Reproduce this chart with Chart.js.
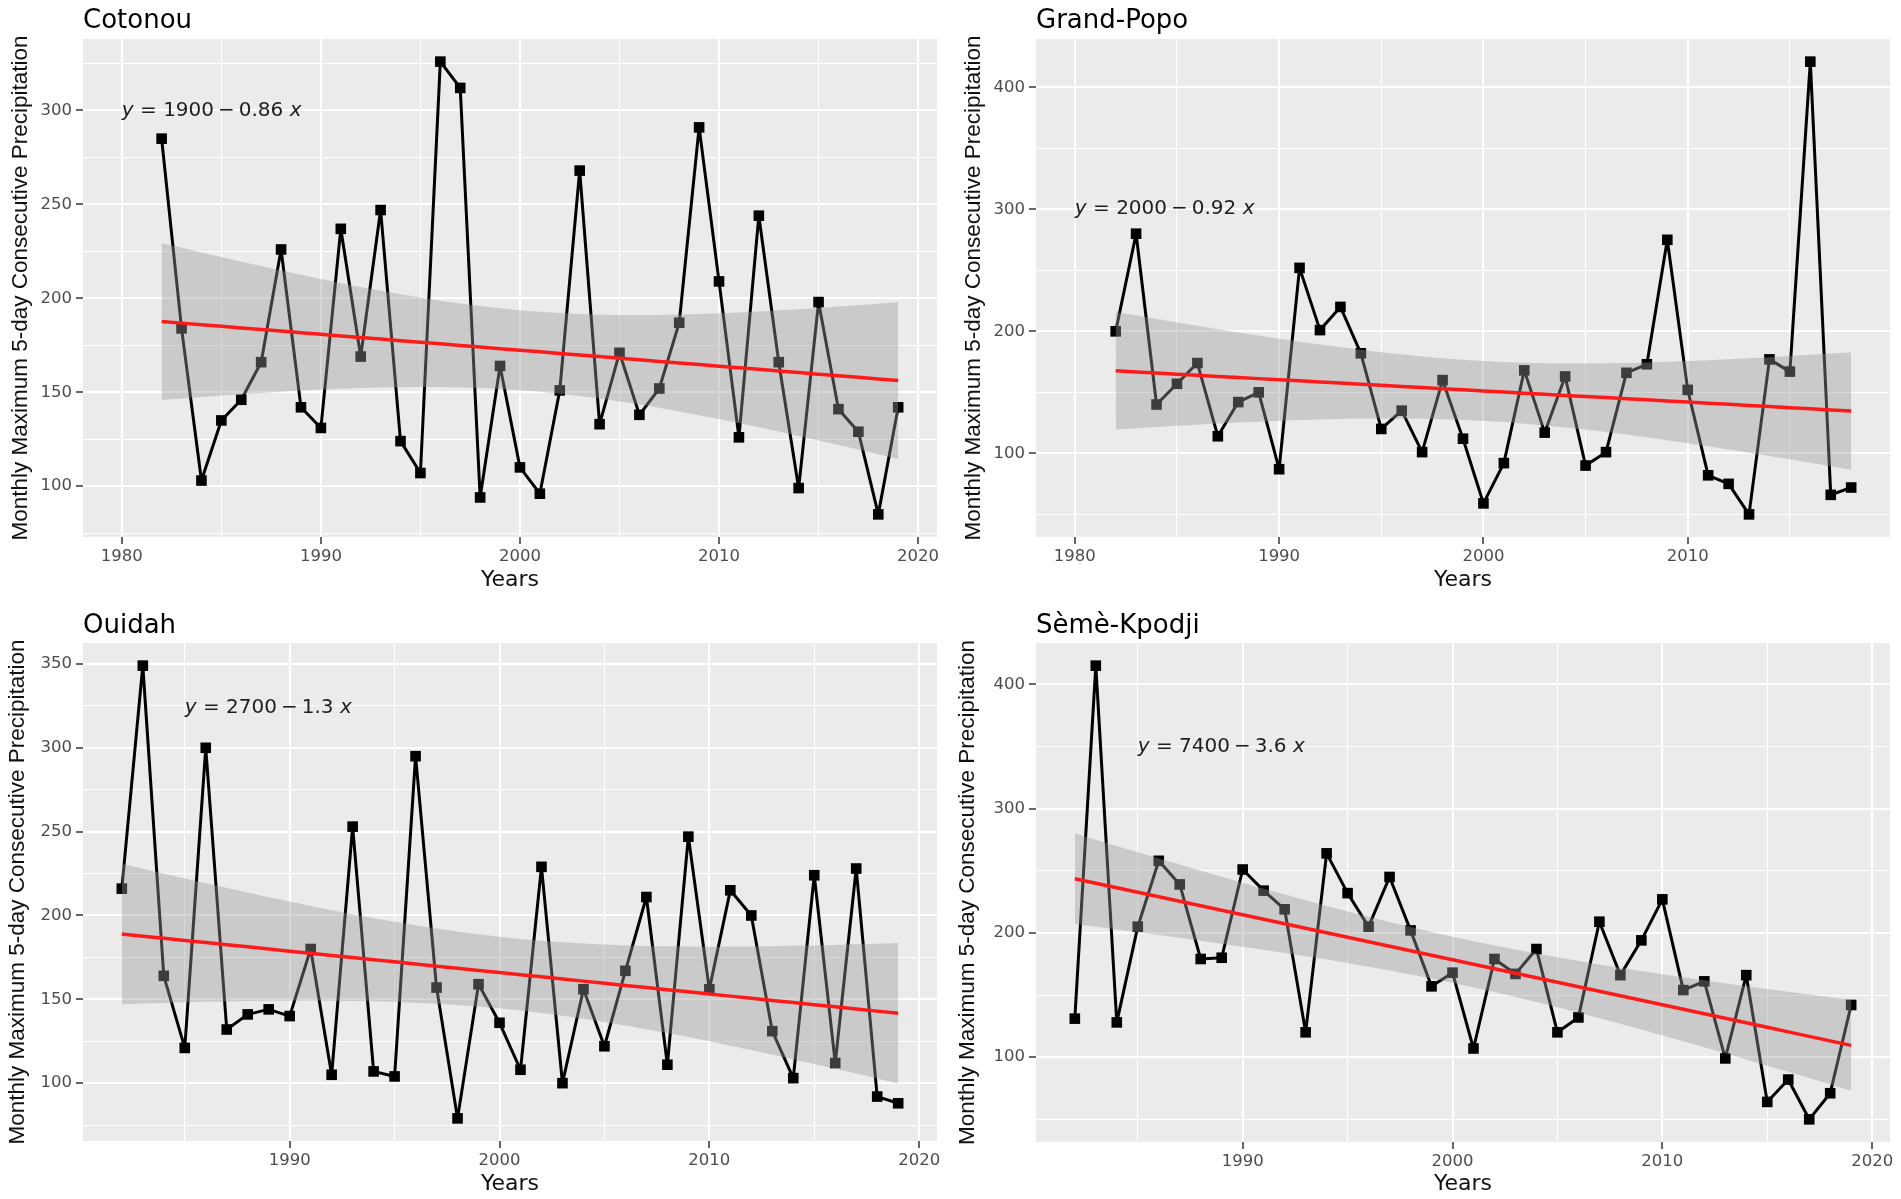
<!DOCTYPE html>
<html>
<head>
<meta charset="utf-8">
<script src="https://cdn.jsdelivr.net/npm/chart.js@4.4.1/dist/chart.umd.min.js"></script>
<style>
html, body { margin: 0; padding: 0; background: #fff; }
body { width: 1901px; height: 1199px; position: relative; overflow: hidden; }
.panel { position: absolute; }
.panel canvas { display: block; }
</style>
</head>
<body>
<div class="panel" style="left:0;top:0;width:950px;height:600px"><canvas id="c1"></canvas></div>
<div class="panel" style="left:950px;top:0;width:951px;height:600px"><canvas id="c2"></canvas></div>
<div class="panel" style="left:0;top:600px;width:950px;height:599px"><canvas id="c3"></canvas></div>
<div class="panel" style="left:950px;top:600px;width:951px;height:599px"><canvas id="c4"></canvas></div>
<script>
// values
const cotonouYears = [1982, 1983, 1984, 1985, 1986, 1987, 1988, 1989, 1990, 1991, 1992, 1993, 1994, 1995, 1996, 1997, 1998, 1999, 2000,
    2001, 2002, 2003, 2004, 2005, 2006, 2007, 2008, 2009, 2010, 2011, 2012, 2013, 2014, 2015, 2016, 2017, 2018, 2019]
const cotonouValues = [285, 184, 103, 135, 146, 166, 226, 142, 131, 237, 169, 247, 124, 107, 326, 312, 94, 164, 110,
    96, 151, 268, 133, 171, 138, 152, 187, 291, 209, 126, 244, 166, 99, 198, 141, 129, 85, 142]

const grandPopoYears = [1982, 1983, 1984, 1985, 1986, 1987, 1988, 1989, 1990, 1991, 1992, 1993, 1994, 1995, 1996, 1997, 1998, 1999, 2000,
    2001, 2002, 2003, 2004, 2005, 2006, 2007, 2008, 2009, 2010, 2011, 2012, 2013, 2014, 2015, 2016, 2017, 2018]
const grandPopoValues = [200, 280, 140, 157, 174, 114, 142, 150, 87, 252, 201, 220, 182, 120, 135, 101, 160, 112, 59,
    92, 168, 117, 163, 90, 101, 166, 173, 275, 152, 82, 75, 50, 177, 167, 421, 66, 72]

const ouidahYears = [1982, 1983, 1984, 1985, 1986, 1987, 1988, 1989, 1990, 1991, 1992, 1993, 1994, 1995, 1996, 1997, 1998, 1999, 2000,
    2001, 2002, 2003, 2004, 2005, 2006, 2007, 2008, 2009, 2010, 2011, 2012, 2013, 2014, 2015, 2016, 2017, 2018, 2019]
const ouidahValues = [216, 349, 164, 121, 300, 132, 141, 144, 140, 180, 105, 253, 107, 104, 295, 157, 79, 159, 136,
    108, 229, 100, 156, 122, 167, 211, 111, 247, 156, 215, 200, 131, 103, 224, 112, 228, 92, 88]

const semeYears = [1982, 1983, 1984, 1985, 1986, 1987, 1988, 1989, 1990, 1991, 1992, 1993, 1994, 1995, 1996, 1997, 1998, 1999, 2000,
    2001, 2002, 2003, 2004, 2005, 2006, 2007, 2008, 2009, 2010, 2011, 2012, 2013, 2014, 2015, 2016, 2017, 2018, 2019]
const semeValues = [131, 415, 128, 205, 258, 239, 179, 180, 251, 234, 219, 120, 264, 232, 205, 245, 202, 157, 168,
    107, 179, 167, 187, 120, 132, 209, 166, 194, 227, 154, 161, 99, 166, 64, 82, 50, 71, 142]

// axis ticks
const xTickLabels = [1980, 1990, 2000, 2010, 2020]
const cotonouYTicks = [100, 150, 200, 250, 300]
const grandPopoYTicks = [100, 200, 300, 400]
const ouidahYTicks = [100, 150, 200, 250, 300, 350]
const semeYTicks = [100, 200, 300, 400]

// texts
const panelTitles = ['Cotonou', 'Grand-Popo', 'Ouidah', 'Sèmè-Kpodji']
const equationTexts = ['1900\u2009−\u20090.86', '2000\u2009−\u20090.92', '2700\u2009−\u20091.3', '7400\u2009−\u20093.6']
const equationX = [1980, 1980, 1985, 1985]
const equationY = [300, 300, 324, 350]
const yTitle = 'Monthly Maximum 5-day Consecutive Precipitation'
const xTitle = 'Years'

// where each plot area sits inside its canvas
const layouts = [
    { left: 83, top: 39, right: 13, xAxisH: 63, yTitlePad: 7, xTitlePad: 7, titleBase: 28 },
    { left: 86, top: 39, right: 11, xAxisH: 63, yTitlePad: 10, xTitlePad: 7, titleBase: 28 },
    { left: 83, top: 43, right: 13, xAxisH: 58, yTitlePad: 4, xTitlePad: 2, titleBase: 33 },
    { left: 86, top: 43, right: 11, xAxisH: 57, yTitlePad: 4, xTitlePad: 2, titleBase: 33 },
]

function linFit(xs, ys) {
    const n = xs.length
    const mx = xs.reduce((s, v) => s + v, 0) / n
    const my = ys.reduce((s, v) => s + v, 0) / n
    let sxx = 0, sxy = 0
    for (let i = 0; i < n; i++) {
        sxx += (xs[i] - mx) ** 2
        sxy += (xs[i] - mx) * (ys[i] - my)
    }
    const b = sxy / sxx, a = my - b * mx
    let rss = 0
    for (let i = 0; i < n; i++) rss += (ys[i] - a - b * xs[i]) ** 2
    const s = Math.sqrt(rss / (n - 2))
    const df = n - 2, z = 1.959964
    const t = z + (z ** 3 + z) / (4 * df) + (5 * z ** 5 + 16 * z ** 3 + 3 * z) / (96 * df * df)
    return { a, b, half: x => t * s * Math.sqrt(1 / n + (x - mx) ** 2 / sxx) }
}

function withMinors(majors, lo, hi) {
    const step = majors[1] - majors[0]
    const all = []
    for (let v = majors[0] - step / 2; v <= majors[majors.length - 1] + step / 2; v += step / 2) all.push(v)
    return all.filter(v => v >= lo && v <= hi)
}

const panelDecor = {
    id: 'panelDecor',
    beforeDraw(chart) {
        const { ctx, chartArea: a } = chart
        ctx.save()
        ctx.fillStyle = '#EBEBEB'
        ctx.fillRect(a.left, a.top, a.right - a.left, a.bottom - a.top)
        ctx.restore()
    },
    afterDatasetsDraw(chart, args, opts) {
        const { ctx, scales } = chart
        let x = scales.x.getPixelForValue(opts.eqX)
        const y = scales.y.getPixelForValue(opts.eqY)
        ctx.save()
        ctx.fillStyle = '#1F1F1F'
        ctx.textBaseline = 'middle'
        ctx.textAlign = 'left'
        const parts = [['y', true], [' = ' + opts.eq + ' ', false], ['x', true]]
        parts.forEach(([txt, it]) => {
            ctx.font = (it ? 'italic ' : '') + '20px "DejaVu Sans"'
            ctx.fillText(txt, x, y)
            x += ctx.measureText(txt).width
        })
        ctx.restore()
    },
    afterDraw(chart, args, opts) {
        const { ctx, chartArea: a } = chart
        ctx.save()
        ctx.fillStyle = '#000'
        ctx.font = '26px "DejaVu Sans"'
        ctx.textBaseline = 'alphabetic'
        ctx.fillText(opts.title, a.left, opts.titleBase)
        ctx.restore()
    }
}

function makePanel(canvasId, idx, years, values, yTicks) {
    const L = layouts[idx]
    const fit = linFit(years, values)
    const fitPts = years.map(x => ({ x, y: fit.a + fit.b * x }))
    const lowPts = years.map(x => ({ x, y: fit.a + fit.b * x - fit.half(x) }))
    const upPts = years.map(x => ({ x, y: fit.a + fit.b * x + fit.half(x) }))

    const xLo0 = Math.min(years[0], equationX[idx]), xHi0 = Math.max(years[years.length - 1], equationX[idx])
    const xMin = xLo0 - (xHi0 - xLo0) * 0.05, xMax = xHi0 + (xHi0 - xLo0) * 0.05
    const yLo0 = Math.min(...values, ...lowPts.map(p => p.y)), yHi0 = Math.max(...values, ...upPts.map(p => p.y))
    const yMin = yLo0 - (yHi0 - yLo0) * 0.05, yMax = yHi0 + (yHi0 - yLo0) * 0.05

    const xAll = withMinors(xTickLabels, xMin, xMax)
    const yAll = withMinors(yTicks, yMin, yMax)
    const isMajorX = v => xTickLabels.includes(v)
    const isMajorY = v => yTicks.includes(v)

    return new Chart(document.getElementById(canvasId), {
        type: 'line',
        data: {
            datasets: [
                { data: years.map((x, i) => ({ x, y: values[i] })), borderColor: '#000', borderWidth: 3,
                  borderJoinStyle: 'round', borderCapStyle: 'round',
                  pointStyle: 'rect', pointRadius: 7.5, pointBackgroundColor: '#000', pointBorderWidth: 0,
                  tension: 0, fill: false, order: 3 },
                { data: lowPts, borderWidth: 0, pointRadius: 0, fill: false, order: 2 },
                { data: upPts, borderWidth: 0, pointRadius: 0, fill: '-1', backgroundColor: 'rgba(153,153,153,0.4)', order: 1 },
                { data: fitPts, borderColor: '#FF1A1A', borderWidth: 3.5, pointRadius: 0, fill: false, order: 0 },
            ]
        },
        options: {
            responsive: true,
            maintainAspectRatio: false,
            animation: false,
            layout: { padding: { left: 0, top: L.top, right: L.right, bottom: 0 } },
            plugins: {
                legend: { display: false },
                tooltip: { enabled: false },
                panelDecor: { title: panelTitles[idx], titleBase: L.titleBase, eq: equationTexts[idx], eqX: equationX[idx], eqY: equationY[idx] }
            },
            scales: {
                x: {
                    type: 'linear', min: xMin, max: xMax,
                    afterBuildTicks: s => { s.ticks = xAll.map(v => ({ value: v })) },
                    afterFit: s => { s.height = L.xAxisH },
                    ticks: { autoSkip: false, maxRotation: 0, padding: 3, color: '#4D4D4D',
                             font: { family: 'DejaVu Sans', size: 16.5 },
                             callback: v => isMajorX(v) ? String(v) : '' },
                    grid: { color: '#FFFFFF', lineWidth: c => (c.tick && isMajorX(c.tick.value)) ? 2 : 1,
                            tickLength: 7, tickWidth: 1.5,
                            tickColor: c => (c.tick && isMajorX(c.tick.value)) ? '#333333' : 'rgba(0,0,0,0)' },
                    border: { display: false },
                    title: { display: true, text: xTitle, color: '#111111',
                             font: { family: 'DejaVu Sans', size: 22 }, padding: { top: 0, bottom: L.xTitlePad } }
                },
                y: {
                    type: 'linear', min: yMin, max: yMax,
                    afterBuildTicks: s => { s.ticks = yAll.map(v => ({ value: v })) },
                    afterFit: s => { s.width = L.left },
                    ticks: { autoSkip: false, padding: 4, color: '#4D4D4D',
                             font: { family: 'DejaVu Sans', size: 16.5 },
                             callback: v => isMajorY(v) ? String(v) : '' },
                    grid: { color: '#FFFFFF', lineWidth: c => (c.tick && isMajorY(c.tick.value)) ? 2 : 1,
                            tickLength: 7, tickWidth: 1.5,
                            tickColor: c => (c.tick && isMajorY(c.tick.value)) ? '#333333' : 'rgba(0,0,0,0)' },
                    border: { display: false },
                    title: { display: true, text: yTitle, color: '#111111',
                             font: { family: 'Liberation Sans', size: 22.5 }, padding: { top: L.yTitlePad, bottom: 0 } }
                }
            }
        },
        plugins: [panelDecor]
    })
}

makePanel('c1', 0, cotonouYears, cotonouValues, cotonouYTicks)
makePanel('c2', 1, grandPopoYears, grandPopoValues, grandPopoYTicks)
makePanel('c3', 2, ouidahYears, ouidahValues, ouidahYTicks)
makePanel('c4', 3, semeYears, semeValues, semeYTicks)
</script>
</body>
</html>
